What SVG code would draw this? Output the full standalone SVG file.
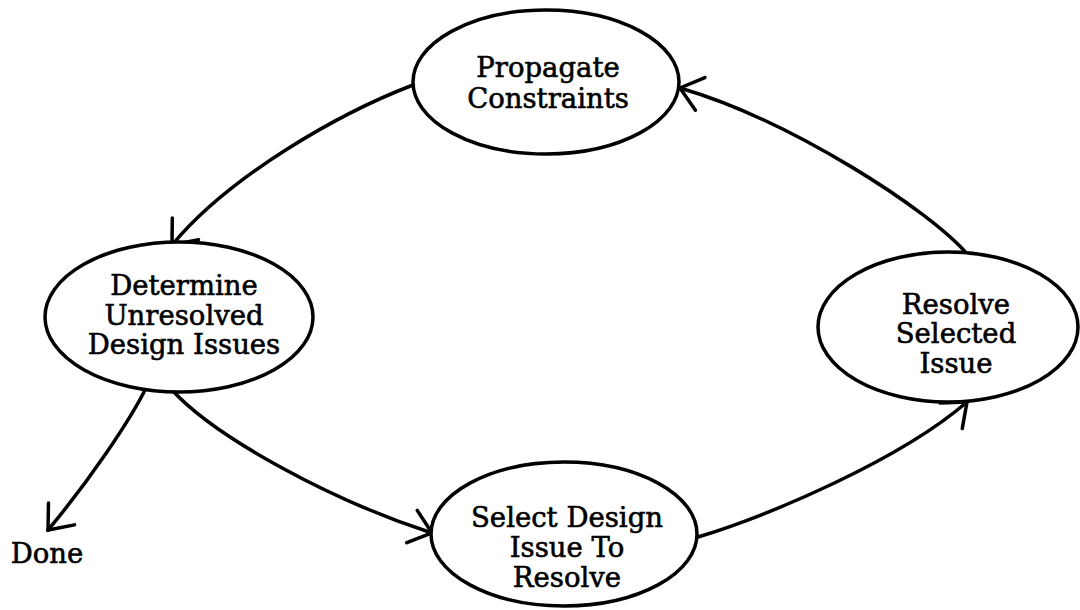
<svg xmlns="http://www.w3.org/2000/svg" width="1080" height="610" viewBox="0 0 1080 610">
  <style>
    .node ellipse { fill: #ffffff; stroke: #000000; stroke-width: 3.5; }
    .label { font-family: "DejaVu Serif", "Liberation Serif", serif; font-size: 27.5px; fill: #000000; stroke: #000000; stroke-width: 0.6; text-anchor: middle; }
    .edge { fill: none; stroke: #000000; stroke-width: 3.5; stroke-linecap: round; marker-end: url(#open-arrow); }
  </style>
  <defs>
    <marker id="open-arrow" markerUnits="userSpaceOnUse" orient="auto" markerWidth="40" markerHeight="40" viewBox="-30 -20 34 40" refX="0" refY="0" overflow="visible">
      <path d="M -21 -17 L 0 0 L -21 17" fill="none" stroke="#000000" stroke-width="3.5" stroke-linecap="round" stroke-linejoin="miter"/>
    </marker>
  </defs>
  <rect width="1080" height="610" fill="#ffffff"/>

  <g id="connectors">
    <!-- Propagate Constraints -> Determine Unresolved Design Issues -->
    <path class="edge" d="M 413 85 C 340 113 230 175 172 245"/>
    <!-- Resolve Selected Issue -> Propagate Constraints -->
    <path class="edge" d="M 968 255 C 930 210 790 120 680 88"/>
    <!-- Determine Unresolved Design Issues -> Select Design Issue To Resolve -->
    <path class="edge" d="M 172 390 C 215 437 330 500 432 533"/>
    <!-- Select Design Issue To Resolve -> Resolve Selected Issue -->
    <path class="edge" d="M 698 537 C 770 515 900 460 967 402"/>
    <!-- Determine Unresolved Design Issues -> Done -->
    <path class="edge" d="M 145 390 C 130 420 90 480 48 530"/>
  </g>

  <g id="propagate-constraints" class="node">
    <ellipse cx="546" cy="82" rx="133" ry="72"/>
    <text class="label" x="548" y="77">Propagate</text>
    <text class="label" x="548" y="108">Constraints</text>
  </g>

  <g id="determine-unresolved" class="node">
    <ellipse cx="179" cy="317" rx="134" ry="75"/>
    <text class="label" x="184" y="295">Determine</text>
    <text class="label" x="184" y="325">Unresolved</text>
    <text class="label" x="184" y="354">Design Issues</text>
  </g>

  <g id="resolve-selected" class="node">
    <ellipse cx="948" cy="327" rx="130" ry="75"/>
    <text class="label" x="956" y="314">Resolve</text>
    <text class="label" x="956" y="343">Selected</text>
    <text class="label" x="956" y="373">Issue</text>
  </g>

  <g id="select-design-issue" class="node">
    <ellipse cx="564" cy="534" rx="133" ry="72"/>
    <text class="label" x="567" y="527">Select Design</text>
    <text class="label" x="567" y="557">Issue To</text>
    <text class="label" x="567" y="587">Resolve</text>
  </g>

  <g id="done">
    <text class="label" x="47" y="563">Done</text>
  </g>
</svg>
